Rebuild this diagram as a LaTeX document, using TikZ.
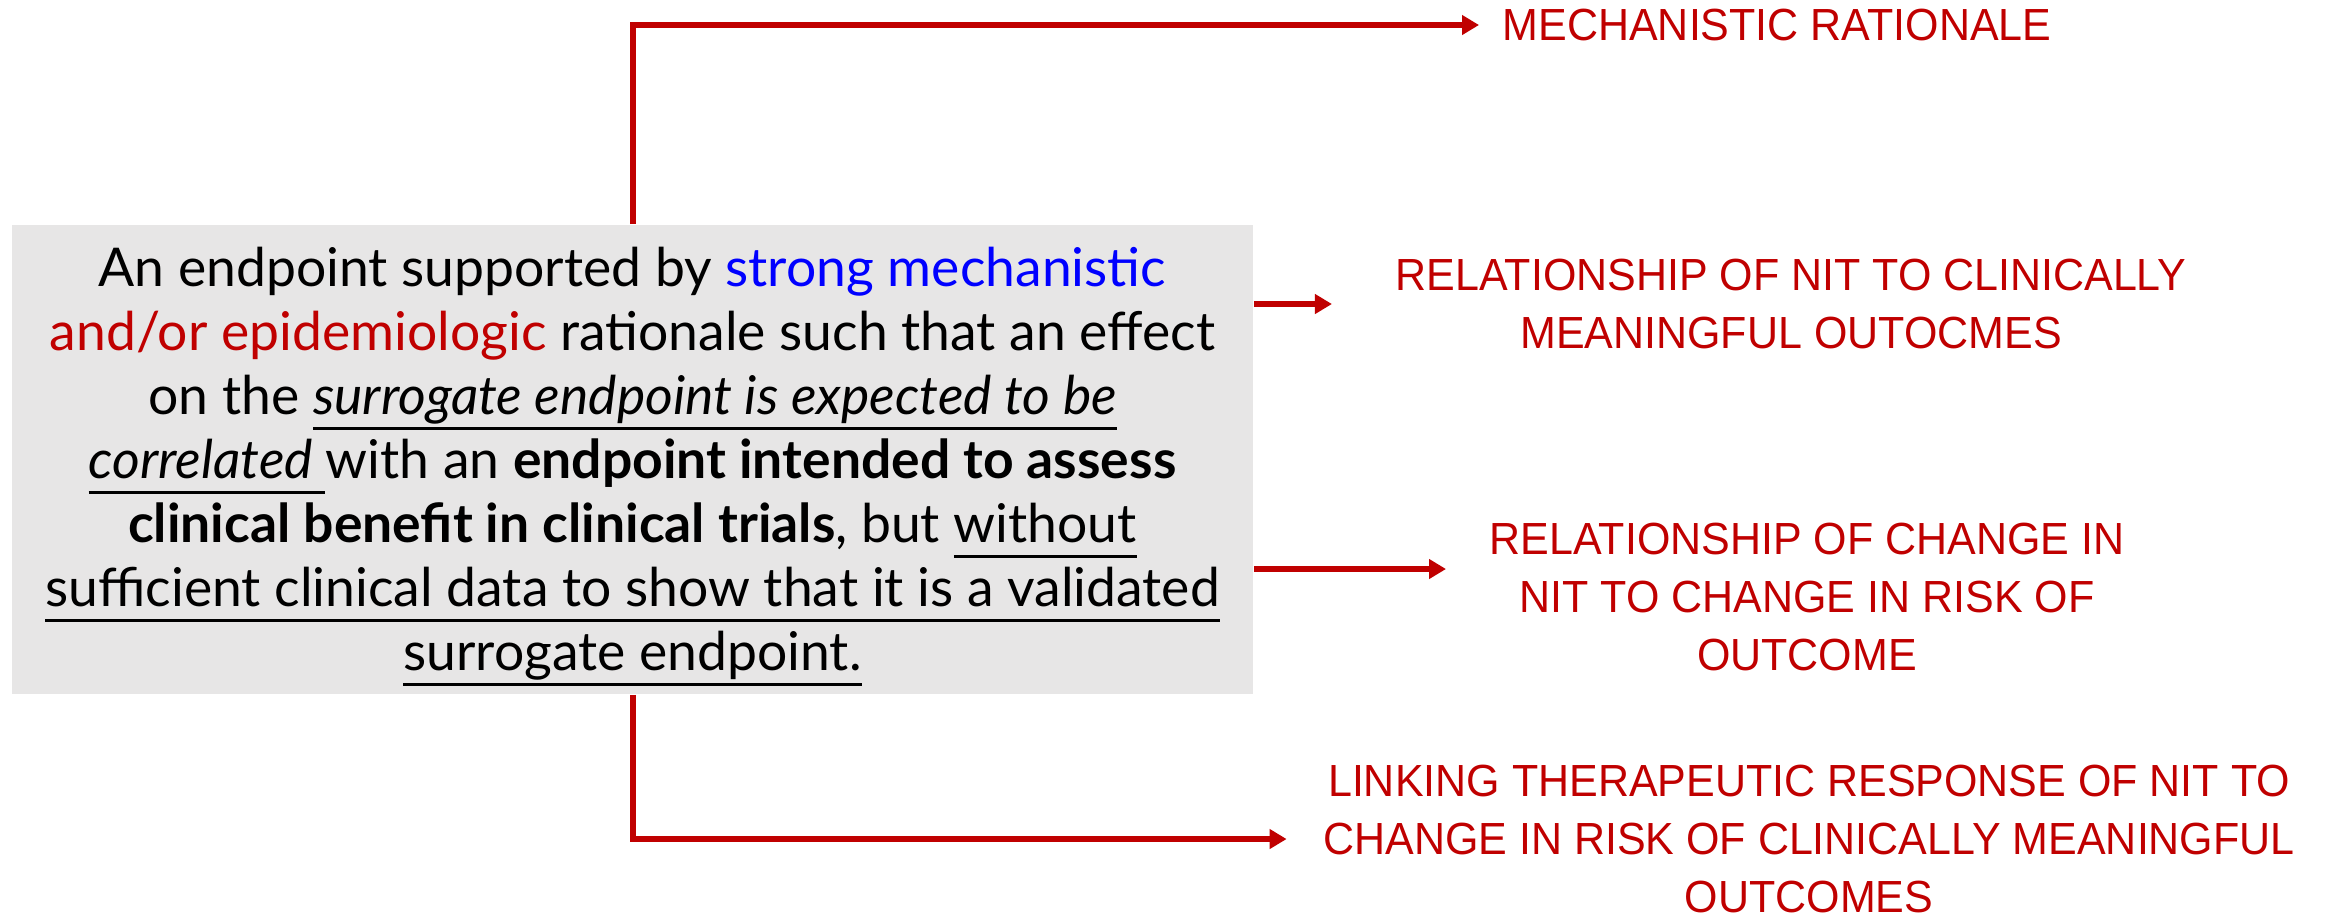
\documentclass[tikz,border=0pt]{standalone}
\usepackage{fontspec}
\setmainfont{Lato}
\newfontfamily\labelfont[FakeStretch=0.955]{Liberation Sans}
\usepackage{tikz}
\usetikzlibrary{positioning,arrows.meta}
\definecolor{darkred}{HTML}{C00000}
\definecolor{boxgray}{HTML}{E7E6E6}
\definecolor{linkblue}{HTML}{0000FF}
\newcommand{\undl}[1]{\setbox0=\hbox{#1}\rlap{\vrule width\wd0 height -0.23em depth 0.29em}\box0}

\begin{document}
\begin{tikzpicture}[
    x=0.01cm, y=-0.01cm,
    defbox/.style={fill=boxgray, minimum width=12.41cm, minimum height=4.69cm,
        inner ysep=0pt, align=center, font=\fontsize{15.2}{18.2}\selectfont},
    outcome/.style={text=darkred, align=center, inner sep=0pt,
        font=\labelfont\fontsize{12.8}{16.5}\selectfont},
    link/.style={-{Triangle[length=0.17cm,width=0.19cm]}, draw=darkred,
        line width=0.06cm}
]
\useasboundingbox (0,0) rectangle (2325,917);

\node[defbox] (def) at (632.5,459.5) {\rule{0pt}{1em}An endpoint supported by \textcolor{linkblue}{strong mechanistic}\\
\textcolor{darkred}{and/or epidemiologic} rationale such that an effect\\
on the \undl{\textit{surrogate endpoint is expected to be}}\\
\undl{\textit{correlated }}with an \textbf{endpoint intended to assess}\\
\textbf{clinical benefit in clinical trials}, but \undl{without}\\
\undl{sufficient clinical data to show that it is a validated}\\
\undl{surrogate endpoint.}};

\node[outcome] (mech) at (1777,25) {MECHANISTIC RATIONALE};
\node[outcome] (clin) at (1791,304) {RELATIONSHIP OF NIT TO CLINICALLY\\MEANINGFUL OUTOCMES};
\node[outcome] (risk) at (1807,597) {RELATIONSHIP OF CHANGE IN\\NIT TO CHANGE IN RISK OF\\OUTCOME};
\node[outcome] (resp) at (1809,839) {LINKING THERAPEUTIC RESPONSE OF NIT TO\\CHANGE IN RISK OF CLINICALLY MEANINGFUL\\OUTCOMES};

\coordinate (riskin) at (1446,569);

\draw[link, shorten >=0.23cm] (def.north) |- (mech.west);
\draw[link, shorten >=0.63cm] (def.east |- clin.west) -- (clin.west);
\draw[link] (def.east |- riskin) -- (riskin);
\draw[link, shorten >=0.36cm] (def.south) |- (resp.west);

\end{tikzpicture}
\end{document}
